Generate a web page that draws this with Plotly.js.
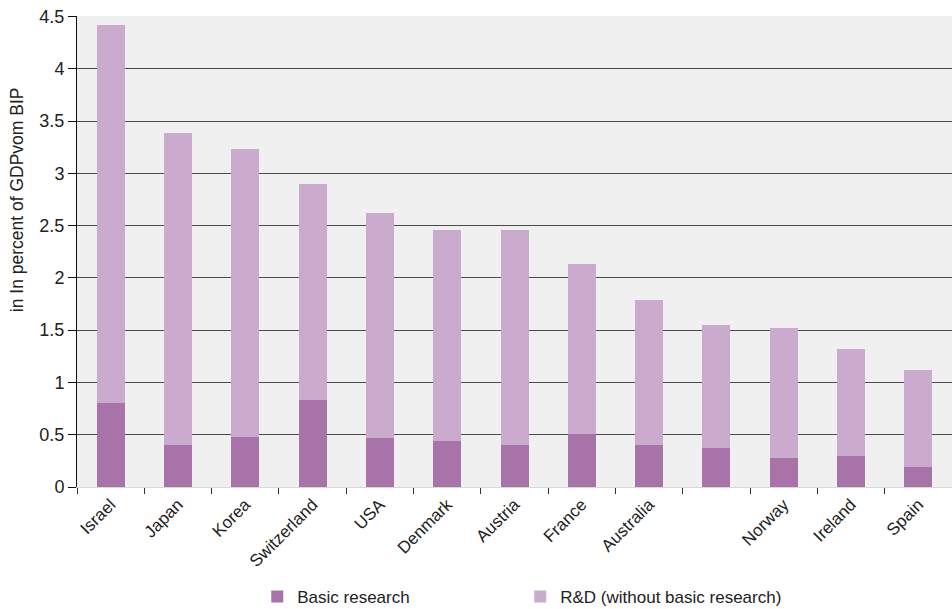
<!DOCTYPE html>
<html>
<head>
<meta charset="utf-8">
<script src="https://cdn.plot.ly/plotly-3.0.1.min.js"></script>
<style>
  html, body { margin: 0; padding: 0; background: #ffffff; }
  #chart { width: 952px; height: 609px; }
</style>
</head>
<body>
<div id="chart"></div>
<script>
// Countries (one column carries no label)
const countries = ["Israel", "Japan", "Korea", "Switzerland", "USA", "Denmark", "Austria",
                   "France", "Australia", " ", "Norway", "Ireland", "Spain"];

// Basic research, in percent of GDP
const basicResearch = [0.80, 0.40, 0.48, 0.83, 0.47, 0.44, 0.40, 0.51, 0.40, 0.37, 0.28, 0.30, 0.19];

// R&D without basic research, in percent of GDP (stacked on top)
const otherRnD = [3.62, 2.99, 2.75, 2.07, 2.15, 2.02, 2.06, 1.62, 1.39, 1.18, 1.24, 1.02, 0.93];

const yTicks = [0, 0.5, 1, 1.5, 2, 2.5, 3, 3.5, 4, 4.5];
const yTickText = ["0", "0.5", "1", "1.5", "2", "2.5", "3", "3.5", "4", "4.5"];

const yTitle = "in In percent of GDPvom BIP";

const fontFamily = "Liberation Sans, Arial, sans-serif";

const traces = [
  {
    type: "bar",
    name: "Basic research",
    x: countries,
    y: basicResearch,
    marker: { color: "#a873a9", line: { width: 0 } },
    hoverinfo: "x+y+name"
  },
  {
    type: "bar",
    name: "R&D (without basic research)",
    x: countries,
    y: otherRnD,
    marker: { color: "#caabcd", line: { width: 0 } },
    hoverinfo: "x+y+name"
  }
];

const layout = {
  width: 952,
  height: 609,
  barmode: "stack",
  bargap: 0.584,
  paper_bgcolor: "#ffffff",
  plot_bgcolor: "#eff0ef",
  margin: { l: 77, r: 0, t: 16, b: 122, pad: 0, autoexpand: false },
  font: { family: fontFamily, color: "#222222" },
  showlegend: true,
  legend: {
    orientation: "h",
    x: 0.206,
    xanchor: "left",
    y: -0.2335,
    yanchor: "middle",
    entrywidth: 218,
    entrywidthmode: "pixels",
    traceorder: "normal",
    font: { size: 17, color: "#222222", family: fontFamily },
    bgcolor: "rgba(0,0,0,0)"
  },
  xaxis: {
    type: "category",
    categoryorder: "array",
    categoryarray: countries,
    tickson: "boundaries",
    ticks: "outside",
    ticklen: 6,
    tickwidth: 1,
    tickcolor: "#333333",
    tickangle: -45,
    tickfont: { size: 17, color: "#222222", family: fontFamily },
    showgrid: false,
    showline: true,
    linecolor: "#d8d8d8",
    linewidth: 1,
    zeroline: false,
    automargin: false,
    fixedrange: true
  },
  yaxis: {
    range: [0, 4.505],
    tickmode: "array",
    tickvals: yTicks,
    ticktext: yTickText,
    ticks: "outside",
    ticklen: 8,
    tickwidth: 1,
    tickcolor: "#111111",
    tickfont: { size: 18, color: "#222222", family: fontFamily },
    showgrid: true,
    gridcolor: "#4a4a4a",
    gridwidth: 1,
    showline: true,
    linecolor: "#111111",
    linewidth: 1,
    zeroline: false,
    automargin: false,
    fixedrange: true
  },
  // axis title placed as a rotated annotation, sitting above the axis midpoint
  annotations: [
    {
      text: yTitle,
      xref: "paper",
      yref: "paper",
      x: -0.0686,
      y: 0.611,
      xanchor: "center",
      yanchor: "middle",
      textangle: -90,
      showarrow: false,
      font: { size: 17.5, color: "#222222", family: fontFamily }
    }
  ]
};

Plotly.newPlot("chart", traces, layout, { displayModeBar: false, staticPlot: true });
</script>
</body>
</html>
